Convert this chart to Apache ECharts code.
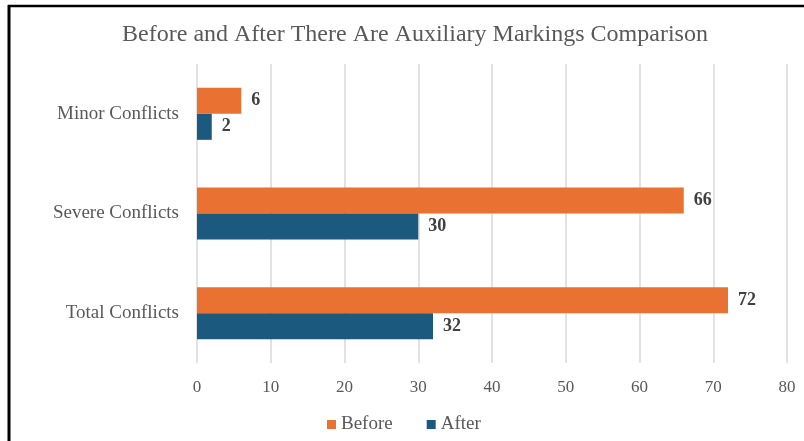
<!DOCTYPE html>
<html>
<head>
<meta charset="utf-8">
<script src="https://cdn.jsdelivr.net/npm/echarts@6/dist/echarts.min.js"></script>
<style>html,body{margin:0;padding:0;background:#fff}#c{width:804px;height:441px}</style>
</head>
<body>
<div id="c"></div>
<script>
const categories = ['Total Conflicts', 'Severe Conflicts', 'Minor Conflicts'];
const beforeValues = [72, 66, 6];
const afterValues = [32, 30, 2];
const xTicks = [0, 10, 20, 30, 40, 50, 60, 70, 80];
const titleText = 'Before and After There Are Auxiliary Markings Comparison';

const FONT = '"Liberation Serif", "DejaVu Serif", serif';
const chart = echarts.init(document.getElementById('c'), null, {renderer: 'canvas'});
const labelStyle = {show: true, position: 'right', distance: 10, fontFamily: FONT, fontSize: 18, fontWeight: 'bold', color: '#404040'};
chart.setOption({
  backgroundColor: '#fff',
  animation: false,
  title: {
    text: titleText, left: 410, top: 18, textAlign: 'center',
    textStyle: {fontFamily: FONT, fontSize: 24, fontWeight: 'normal', color: '#595959'}
  },
  legend: {
    data: ['Before', 'After'], left: 322, top: 410,
    itemWidth: 9, itemHeight: 9, itemGap: 34, icon: 'rect',
    textStyle: {fontFamily: FONT, fontSize: 19, color: '#595959'}
  },
  grid: {left: 197, right: 17, top: 64, bottom: 78, containLabel: false},
  xAxis: {
    type: 'value', min: xTicks[0], max: xTicks[xTicks.length - 1], interval: 10,
    axisLine: {show: false}, axisTick: {show: false},
    splitLine: {show: true, lineStyle: {color: '#d9d9d9', width: 1.5}},
    axisLabel: {margin: 16, fontFamily: FONT, fontSize: 17, color: '#595959'}
  },
  yAxis: {
    type: 'category', data: categories,
    axisLine: {show: false}, axisTick: {show: false},
    axisLabel: {margin: 18, fontFamily: FONT, fontSize: 19, color: '#595959'}
  },
  series: [
    {name: 'Before', type: 'bar', data: beforeValues, barWidth: 26, barGap: '0%', itemStyle: {color: '#E97132'}, label: labelStyle},
    {name: 'After', type: 'bar', data: afterValues, barWidth: 26, barGap: '0%', itemStyle: {color: '#1B5A7E'}, label: labelStyle}
  ],
  graphic: [
    {type: 'line', shape: {x1: 8, y1: 6, x2: 804, y2: 6}, style: {stroke: '#000', lineWidth: 2.5}},
    {type: 'line', shape: {x1: 9, y1: 5, x2: 9, y2: 441}, style: {stroke: '#000', lineWidth: 3}}
  ]
});
</script>
</body>
</html>
